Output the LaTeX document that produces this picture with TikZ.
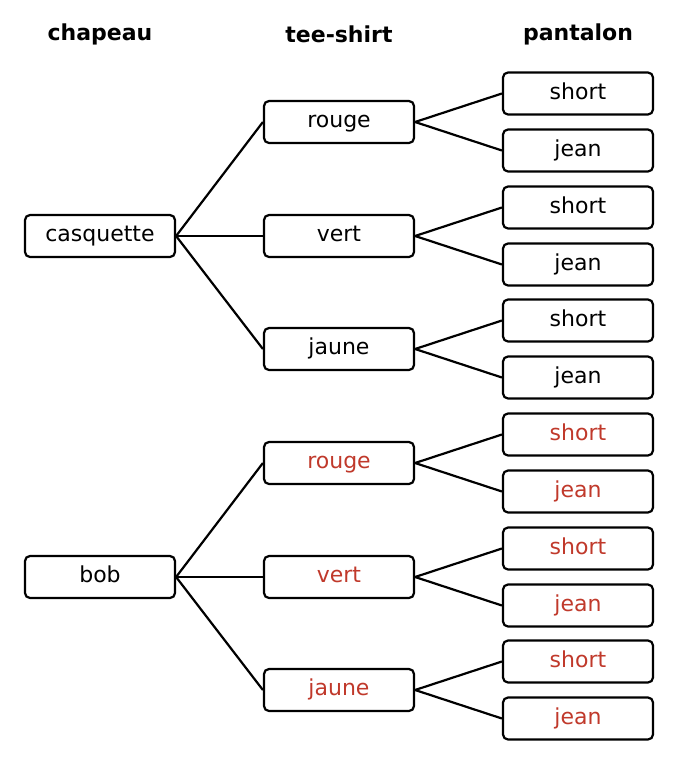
\documentclass[tikz,border=0pt]{standalone}
\usepackage{fontspec}
\setmainfont{DejaVu Sans}
\definecolor{rd}{HTML}{C0392B}
\begin{document}
\begin{tikzpicture}[x=1pt,y=-1pt,
 box/.style={draw,line width=2.2pt,rounded corners=5pt,minimum width=150pt,minimum height=42pt,font=\fontsize{22}{26}\selectfont,inner sep=0pt,text height=15pt,text depth=4pt},
 hd/.style={font=\bfseries\fontsize{22}{26}\selectfont},
 ln/.style={line width=2.2pt}]
\useasboundingbox (0,0) rectangle (678,769);
\node[hd] at (100,34) {chapeau};
\node[hd] at (339,34) {tee-shirt};
\node[hd] at (578,34) {pantalon};
\node[box] (c1) at (100,236) {casquette};
\node[box] (c2) at (100,577) {bob};
\foreach \t/\y/\col/\pn [count=\i] in {rouge/122/black/c1,vert/236/black/c1,jaune/349/black/c1,rouge/463/rd/c2,vert/577/rd/c2,jaune/690/rd/c2}{
 \node[box,text=\col] (t\i) at (339,\y) {\t};
 \draw[ln] (\pn.east) -- (t\i.west);
 \node[box,text=\col] (p\i a) at (578,\y-28.5) {short};
 \node[box,text=\col] (p\i b) at (578,\y+28.5) {jean};
 \draw[ln] (t\i.east) -- (p\i a.west);
 \draw[ln] (t\i.east) -- (p\i b.west);
}
\end{tikzpicture}
\end{document}
